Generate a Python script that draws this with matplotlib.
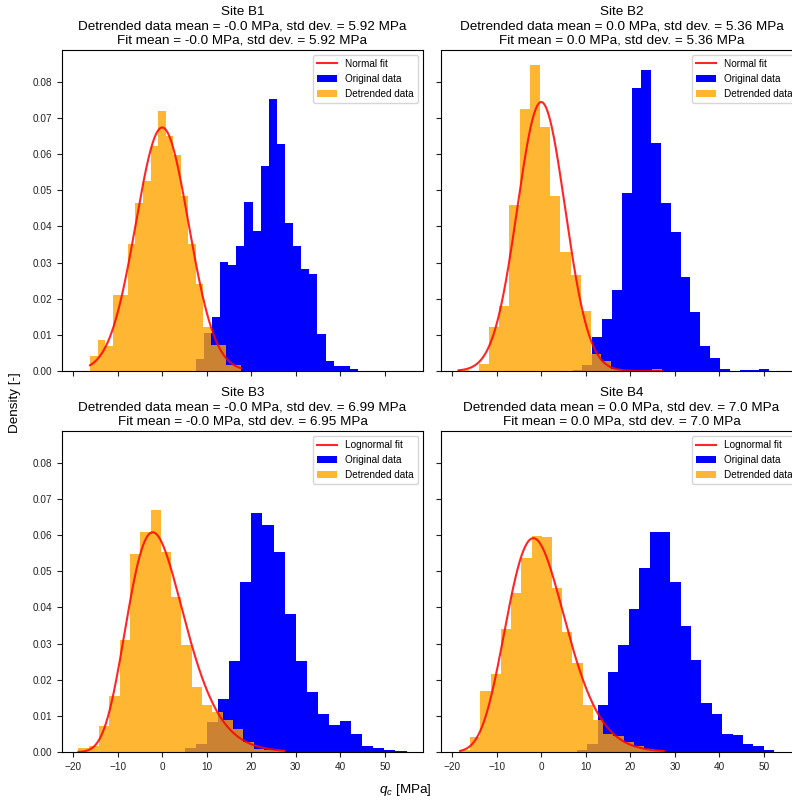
import numpy as np
import matplotlib.pyplot as plt

plt.rcParams['font.family'] = ['Liberation Sans', 'DejaVu Sans']
plt.rcParams['mathtext.fontset'] = 'custom'
plt.rcParams['mathtext.it'] = 'Liberation Sans:italic'
plt.rcParams['mathtext.rm'] = 'Liberation Sans'

sites = ['B1', 'B2', 'B3', 'B4']
fit_kind = ['Normal', 'Normal', 'Lognormal', 'Lognormal']
data_mean = ['-0.0', '0.0', '-0.0', '0.0']
data_std = ['5.92', '5.36', '6.99', '7.0']
fit_mean = ['-0.0', '0.0', '-0.0', '0.0']
fit_std = ['5.92', '5.36', '6.95', '7.0']
# shift of the 3-parameter lognormal (MPa)
lognorm_shift = [None, None, 32.0, 40.0]

# original q_c histograms (density), first and last bin edge in MPa
orig_range = [(7.54, 43.99), (7.05, 51.16), (5.08, 54.89), (8.03, 52.29)]
orig_B1 = [0.0032, 0.0106, 0.0149, 0.0301, 0.0294, 0.0345, 0.0469, 0.0388, 0.0567, 0.0754,
           0.0627, 0.0409, 0.0345, 0.0281, 0.0269, 0.0103, 0.0029, 0.0014, 0.0014, 0.0005]
orig_B2 = [0.0002, 0.0016, 0.0094, 0.0144, 0.0225, 0.0492, 0.0782, 0.0832, 0.0630, 0.0466,
           0.0386, 0.0260, 0.0163, 0.0069, 0.0037, 0.0005, 0.0, 0.0002, 0.0002, 0.0005]
orig_B3 = [0.0012, 0.0021, 0.0082, 0.0147, 0.0251, 0.0471, 0.0661, 0.0629, 0.0553, 0.0381,
           0.0253, 0.0165, 0.0104, 0.0076, 0.0087, 0.0049, 0.0016, 0.0012, 0.0005, 0.0003]
orig_B4 = [0.0006, 0.0021, 0.0131, 0.0222, 0.0296, 0.0396, 0.0509, 0.0610, 0.0610, 0.0470,
           0.0350, 0.0254, 0.0135, 0.0104, 0.0050, 0.0048, 0.0023, 0.0018, 0.0005]

# detrended histograms (density)
detr_range = [(-16.21, 17.77), (-18.60, 27.23), (-18.82, 27.48), (-18.23, 27.68)]
detr_B1 = [0.0041, 0.0087, 0.0069, 0.0209, 0.0209, 0.0351, 0.0466, 0.0526, 0.0624, 0.0720,
           0.0649, 0.0598, 0.0485, 0.0352, 0.0240, 0.0122, 0.0072, 0.0072, 0.0017, 0.0017]
detr_B2 = [0.0002, 0.0, 0.0020, 0.0122, 0.0181, 0.0460, 0.0726, 0.0846, 0.0676, 0.0483,
           0.0329, 0.0265, 0.0166, 0.0046, 0.0028, 0.0005, 0.0, 0.0, 0.0, 0.0006]
detr_B3 = [0.0012, 0.0016, 0.0071, 0.0155, 0.0309, 0.0548, 0.0609, 0.0669, 0.0553, 0.0429,
           0.0297, 0.0179, 0.0129, 0.0110, 0.0090, 0.0064, 0.0028, 0.0009, 0.0006, 0.0005]
detr_B4 = [0.0006, 0.0041, 0.0168, 0.0216, 0.0341, 0.0440, 0.0537, 0.0599, 0.0596, 0.0454,
           0.0332, 0.0246, 0.0131, 0.0090, 0.0050, 0.0043, 0.0028, 0.0016, 0.0009, 0.0005]

orig_hist = [orig_B1, orig_B2, orig_B3, orig_B4]
detr_hist = [detr_B1, detr_B2, detr_B3, detr_B4]


def fit_pdf(x, kind, sd, shift):
    if kind == 'Normal':
        return np.exp(-0.5 * (x / sd) ** 2) / (sd * np.sqrt(2 * np.pi))
    y = x + shift
    s2 = np.log(1 + (sd / shift) ** 2)
    mu = np.log(shift) - s2 / 2
    return np.exp(-(np.log(y) - mu) ** 2 / (2 * s2)) / (y * np.sqrt(2 * np.pi * s2))


fig, axes = plt.subplots(2, 2, figsize=(7.92, 8.05), dpi=100, sharex=True, sharey=True)
fig.subplots_adjust(left=0.0783, right=1.0126, bottom=0.0658, top=0.9379,
                    wspace=0.05, hspace=0.187)

for i, ax in enumerate(axes.flat):
    lo, hi = orig_range[i]
    edges = np.linspace(lo, hi, len(orig_hist[i]) + 1)
    _, _, orig_bars = ax.hist(edges[:-1], bins=edges, weights=orig_hist[i], color='blue')

    lo, hi = detr_range[i]
    edges = np.linspace(lo, hi, len(detr_hist[i]) + 1)
    _, _, detr_bars = ax.hist(edges[:-1], bins=edges, weights=detr_hist[i], color='orange',
                              alpha=0.8)

    x = np.linspace(lo, hi, 400)
    fit_line, = ax.plot(x, fit_pdf(x, fit_kind[i], float(fit_std[i]), lognorm_shift[i]),
                        color='red', alpha=0.85, lw=1.5)

    ax.set_title(f'Site {sites[i]}\n'
                 f'Detrended data mean = {data_mean[i]} MPa, std dev. = {data_std[i]} MPa\n'
                 f'Fit mean = {fit_mean[i]} MPa, std dev. = {fit_std[i]} MPa',
                 fontsize=9.7, pad=5)
    ax.tick_params(labelsize=7.2, colors='#222222')
    ax.legend([fit_line, orig_bars[0], detr_bars[0]],
              [f'{fit_kind[i]} fit', 'Original data', 'Detrended data'],
              loc='upper right', fontsize=7.2)

fig.text(15 / 792, 1 - 403 / 805, 'Density [-]', rotation=90, ha='center', va='center',
         fontsize=9.7)
fig.text(405 / 792, 1 - 790 / 805, '$q_c$ [MPa]', ha='center', va='center', fontsize=9.7)

fig.savefig('out.png', dpi=100)
